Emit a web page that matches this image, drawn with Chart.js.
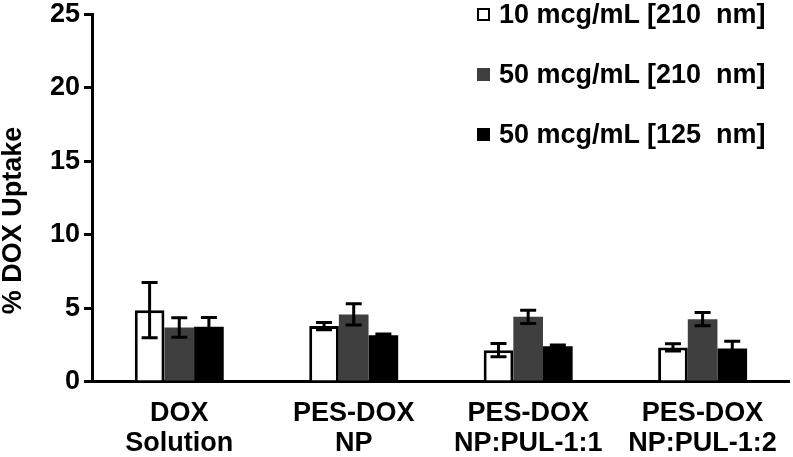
<!DOCTYPE html>
<html>
<head>
<meta charset="utf-8">
<script src="https://cdn.jsdelivr.net/npm/chart.js@4.4.0/dist/chart.umd.min.js"></script>
<style>
  html, body { margin: 0; padding: 0; background: #fff; }
  #wrap { position: relative; width: 793px; height: 457px; }
  #legend { position: absolute; left: 477px; top: -16px; font: bold 27px "Liberation Sans"; color: #000; }
  .item { height: 60px; display: flex; align-items: center; white-space: pre; }
  .box { width: 13px; height: 13px; margin-right: 9px; box-sizing: border-box; border: 2px solid #000; }
</style>
</head>
<body>
<div id="wrap">
  <canvas id="myChart" width="793" height="457"></canvas>
  <div id="legend"></div>
</div>
<script>
// categories (two-line labels)
const categories = [
  ["DOX", "Solution"],
  ["PES-DOX", "NP"],
  ["PES-DOX", "NP:PUL-1:1"],
  ["PES-DOX", "NP:PUL-1:2"]
];
const series_labels = ["10 mcg/mL [210  nm]", "50 mcg/mL [210  nm]", "50 mcg/mL [125  nm]"];

// % DOX uptake
const dose10_210 = [4.88, 3.8, 2.16, 2.35];
const dose50_210 = [3.7, 4.59, 4.43, 4.27];
const dose50_125 = [3.75, 3.18, 2.43, 2.27];

// error bar half-lengths
const err10_210 = [1.88, 0.25, 0.45, 0.25];
const err50_210 = [0.66, 0.72, 0.45, 0.45];
const err50_125 = [0.63, 0.08, 0.08, 0.5];

const y_ticks = [0, 5, 10, 15, 20, 25];

const font_name = "Liberation Sans";

// draws the whiskers from the data above
const errorBars = {
  id: "errorBars",
  afterDatasetsDraw(chart) {
    let ctx = chart.ctx;
    let yScale = chart.scales.y;
    ctx.save();
    ctx.strokeStyle = "#000";
    ctx.lineWidth = 3;
    chart.data.datasets.forEach((ds, i) => {
      let meta = chart.getDatasetMeta(i);
      meta.data.forEach((bar, j) => {
        let v = ds.data[j];
        let e = ds.errors[j];
        let top = yScale.getPixelForValue(v + e);
        let bottom = yScale.getPixelForValue(v - e);
        let x = bar.x;
        ctx.beginPath();
        ctx.moveTo(x, top);
        ctx.lineTo(x, bottom);
        ctx.moveTo(x - 8, top);
        ctx.lineTo(x + 8, top);
        ctx.moveTo(x - 8, bottom);
        ctx.lineTo(x + 8, bottom);
        ctx.stroke();
      });
    });
    ctx.restore();
  }
};

// legend as html, built from the datasets
const htmlLegend = {
  id: "htmlLegend",
  afterUpdate(chart) {
    let box = document.getElementById("legend");
    box.innerHTML = "";
    chart.data.datasets.forEach((ds) => {
      let item = document.createElement("div");
      item.className = "item";
      let swatch = document.createElement("span");
      swatch.className = "box";
      swatch.style.background = ds.backgroundColor;
      if (ds.backgroundColor !== "#ffffff") swatch.style.borderColor = ds.backgroundColor;
      let text = document.createElement("span");
      text.textContent = ds.label;
      item.appendChild(swatch);
      item.appendChild(text);
      box.appendChild(item);
    });
  }
};

let ctx = document.getElementById("myChart").getContext("2d");
let myChart = new Chart(ctx, {
  type: "bar",
  data: {
    labels: categories,
    datasets: [
      {
        label: series_labels[0],
        data: dose10_210,
        errors: err10_210,
        backgroundColor: "#ffffff",
        borderColor: "#000000",
        borderWidth: 3
      },
      {
        label: series_labels[1],
        data: dose50_210,
        errors: err50_210,
        backgroundColor: "#3f3f3f",
        borderWidth: 0
      },
      {
        label: series_labels[2],
        data: dose50_125,
        errors: err50_125,
        backgroundColor: "#000000",
        borderWidth: 0
      }
    ]
  },
  options: {
    responsive: false,
    animation: false,
    // tick padding is reserved twice below the labels, take it back
    layout: { padding: { left: 0, top: 0, right: 1, bottom: -18 } },
    datasets: {
      bar: { barPercentage: 1, categoryPercentage: 0.51 }
    },
    plugins: {
      legend: { display: false },
      tooltip: { enabled: false }
    },
    scales: {
      x: {
        grid: { display: false, drawTicks: false },
        border: { display: true, color: "#000", width: 3 },
        ticks: {
          color: "#000",
          padding: 16,
          maxRotation: 0,
          autoSkip: false,
          font: { family: font_name, size: 27, weight: "bold", lineHeight: 1.13 }
        }
      },
      y: {
        min: 0,
        max: 25,
        afterBuildTicks(scale) {
          scale.ticks = y_ticks.map((v) => ({ value: v }));
        },
        grid: {
          display: true,
          drawOnChartArea: false,
          drawTicks: true,
          tickLength: 8,
          color: "#000",
          lineWidth: 3
        },
        border: { display: true, color: "#000", width: 3 },
        ticks: {
          color: "#000",
          padding: 4,
          // small line height so the top label needs less room above the axis
          font: { family: font_name, size: 27, weight: "bold", lineHeight: 0.75 }
        },
        title: {
          display: true,
          // trailing spaces push the centred title down a little, as in the original
          text: "% DOX Uptake      ",
          color: "#000",
          padding: { top: 0, bottom: 19 },
          font: { family: font_name, size: 27, weight: "bold", lineHeight: 1 }
        }
      }
    }
  },
  plugins: [errorBars, htmlLegend]
});
</script>
</body>
</html>
